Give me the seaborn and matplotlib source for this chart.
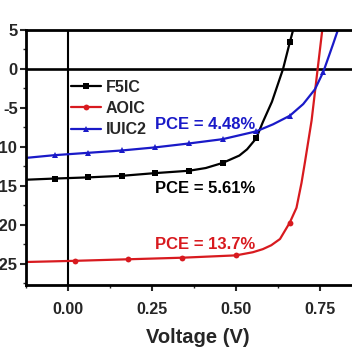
import matplotlib
matplotlib.use("Agg")
import matplotlib.pyplot as plt
import seaborn as sns
import numpy as np
import pandas as pd

# ---- data ----
f5ic_v = [-0.125, -0.04, 0.06, 0.16, 0.26, 0.36, 0.41, 0.46, 0.51, 0.533, 0.56, 0.58, 0.607, 0.64, 0.66, 0.675]
f5ic_j = [-14.2, -14.05, -13.9, -13.7, -13.35, -13.05, -12.7, -12.05, -11.1, -10.3, -8.9, -6.8, -4.2, 0.0, 3.4, 5.8]
f5ic_marks = [-0.04, 0.06, 0.16, 0.26, 0.36, 0.46, 0.56, 0.66]

aoic_v = [-0.125, 0.02, 0.18, 0.34, 0.50, 0.55, 0.58, 0.605, 0.631, 0.66, 0.68, 0.695, 0.705, 0.725, 0.743, 0.757, 0.762]
aoic_j = [-24.75, -24.6, -24.4, -24.2, -23.9, -23.5, -23.1, -22.6, -21.8, -19.7, -17.8, -14.6, -12.0, -6.6, 0.0, 5.1, 6.9]
aoic_marks = [0.02, 0.18, 0.34, 0.50, 0.66]

iuic2_v = [-0.125, -0.04, 0.06, 0.16, 0.26, 0.36, 0.46, 0.56, 0.61, 0.66, 0.70, 0.735, 0.76, 0.789, 0.804, 0.812]
iuic2_j = [-11.4, -11.05, -10.75, -10.45, -10.05, -9.55, -9.0, -8.0, -7.1, -6.0, -4.5, -2.6, -0.35, 3.2, 5.1, 6.3]
iuic2_marks = [-0.04, 0.06, 0.16, 0.26, 0.36, 0.46, 0.56, 0.66, 0.76]

series_names = ["F5IC", "AOIC", "IUIC2"]
series_colors = ["#000000", "#d81a1f", "#1a1ac8"]
series_markers = ["s", "o", "^"]
pce_labels = ["PCE = 5.61%", "PCE = 13.7%", "PCE = 4.48%"]
x_ticks = [0.0, 0.25, 0.50, 0.75]
y_ticks = [-25, -20, -15, -10, -5, 0, 5]

# ---- style ----
sns.set_style("ticks")
plt.rcParams["font.family"] = ["Liberation Sans", "DejaVu Sans"]
plt.rcParams["font.weight"] = "bold"

fig = plt.figure(figsize=(3.52, 3.53), dpi=100)
W, H = 352, 353
left_px, top_px, bottom_px = 26, 30, 285
px_per_v = 336.0
x0_px = 68
xmin = (left_px - x0_px) / px_per_v
xmax = 0.9
right_px = x0_px + xmax * px_per_v
ax = fig.add_axes([left_px / W, 1 - bottom_px / H, (right_px - left_px) / W, (bottom_px - top_px) / H])

all_v = [f5ic_v, aoic_v, iuic2_v]
all_j = [f5ic_j, aoic_j, iuic2_j]
all_marks = [f5ic_marks, aoic_marks, iuic2_marks]

for name, v, j, mk, c, m in zip(series_names, all_v, all_j, all_marks, series_colors, series_markers):
    df = pd.DataFrame({"V": v, "J": j})
    idx = [i for i, vv in enumerate(v) if any(abs(vv - q) < 1e-9 for q in mk)]
    sns.lineplot(data=df, x="V", y="J", ax=ax, color=c, lw=1.6, marker=m,
                 markersize=4.2 if m != "^" else 4.8, markeredgewidth=0, markevery=idx,
                 label=name, sort=False, estimator=None)

ax.axhline(0, color="black", lw=1.9, zorder=0.5)
ax.axvline(0, color="black", lw=1.5, zorder=0.5)

ax.set_xlim(xmin, xmax)
ax.set_ylim(-27.7, 5)
ax.set_xticks(x_ticks)
ax.set_xticklabels([f"{t:.2f}" for t in x_ticks], fontsize=11.5, fontweight="bold")
ax.set_yticks(y_ticks)
ax.set_yticklabels([str(t) for t in y_ticks], fontsize=12, fontweight="bold")
ax.set_xticks([-0.125, 0.125, 0.375, 0.625, 0.875], minor=True)
ax.set_yticks([-27.5, -22.5, -17.5, -12.5, -7.5, -2.5, 2.5], minor=True)
ax.tick_params(which="major", direction="out", length=4, width=1.5, pad=2)
ax.tick_params(axis="x", which="major", pad=8)
ax.tick_params(which="minor", direction="out", length=2.5, width=1.0)
for s in ax.spines.values():
    s.set_linewidth(2.0)
    s.set_color("black")

ax.set_xlabel("Voltage (V)", fontsize=14.5, fontweight="bold", labelpad=8)
ax.set_ylabel("")

leg = ax.legend(loc="upper left", bbox_to_anchor=(0.13, 0.804), frameon=False,
                prop={"size": 11.5, "weight": "bold"}, handlelength=1.9,
                handletextpad=0.3, labelspacing=0.38, borderpad=0.0, borderaxespad=0.0)

ax.text(0.259, -7.1, pce_labels[2], color=series_colors[2], fontsize=12, fontweight="bold", ha="left", va="center")
ax.text(0.259, -15.3, pce_labels[0], color=series_colors[0], fontsize=12, fontweight="bold", ha="left", va="center")
ax.text(0.259, -22.5, pce_labels[1], color=series_colors[1], fontsize=12, fontweight="bold", ha="left", va="center")

fig.savefig("out.png", dpi=100)
